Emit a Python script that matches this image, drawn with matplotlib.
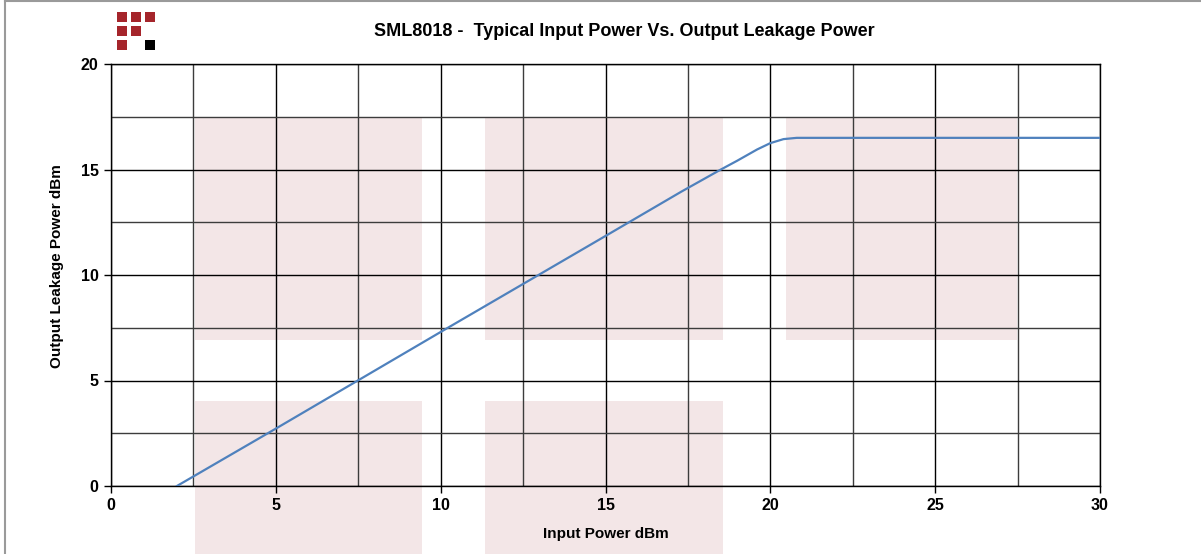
import matplotlib
matplotlib.use("Agg")
from matplotlib import pyplot as plt
from matplotlib.patches import Rectangle
from matplotlib.lines import Line2D
from matplotlib.ticker import MultipleLocator

plt.rcParams['font.family'] = ['Liberation Sans', 'DejaVu Sans']

# data
input_power = [2.0, 5.0, 10.0, 15.0, 17.3, 18.5, 19.0, 19.6, 20.0, 20.4, 20.8, 25.0, 30.0]
leakage_power = [0.0, 2.72, 7.3, 11.85, 13.95, 15.0, 15.42, 15.95, 16.25, 16.44, 16.5, 16.5, 16.5]

title = "SML8018 -  Typical Input Power Vs. Output Leakage Power"
x_label = "Input Power dBm"
y_label = "Output Leakage Power dBm"

W, H = 1201, 554
fig = plt.figure(figsize=(W / 100, H / 100), dpi=100)

def px_rect(x0, y0, x1, y1, **kw):
    # pixel box (top-left origin) -> figure fraction rectangle
    return Rectangle((x0 / W, 1 - y1 / H), (x1 - x0) / W, (y1 - y0) / H,
                     transform=fig.transFigure, **kw)

# faint background watermark blocks
pink = "#f3e6e7"
for box in [(195, 117, 422, 340), (485, 117, 723, 340), (786, 117, 1017, 340),
            (195, 401, 422, 554), (485, 401, 723, 554)]:
    fig.patches.append(px_rect(*box, facecolor=pink, edgecolor="none", zorder=-5))

# logo
red, blk = "#a5252b", "#000000"
cells = [(0, 0, red), (1, 0, red), (2, 0, red), (0, 1, red), (1, 1, red),
         (0, 2, red), (2, 2, blk)]
for c, r, col in cells:
    x0, y0 = 117 + 14 * c, 12 + 14 * r
    fig.patches.append(px_rect(x0, y0, x0 + 10, y0 + 10, facecolor=col,
                               edgecolor="none", zorder=5))

# thin grey frame on top and left
fig.lines.append(Line2D([5 / W, 1], [1 - 1 / H, 1 - 1 / H], transform=fig.transFigure,
                        color="#9a9a9a", lw=1.5))
fig.lines.append(Line2D([5 / W, 5 / W], [0, 1], transform=fig.transFigure,
                        color="#9a9a9a", lw=1.5))

ax = fig.add_axes([111 / W, (H - 486) / H, (1100 - 111) / W, (486 - 64) / H])
ax.patch.set_alpha(0)
ax.plot(input_power, leakage_power, color="#4f81bd", lw=1.6, zorder=3)

ax.set_xlim(0, 30)
ax.set_ylim(0, 20)
ax.xaxis.set_major_locator(MultipleLocator(5))
ax.yaxis.set_major_locator(MultipleLocator(5))
ax.xaxis.set_minor_locator(MultipleLocator(2.5))
ax.yaxis.set_minor_locator(MultipleLocator(2.5))
ax.grid(which="major", color="black", lw=1)
ax.grid(which="minor", color="#3c3c3c", lw=1)
ax.tick_params(which="major", direction="out", length=5, width=1, labelsize=11.5, pad=4)
ax.tick_params(which="minor", length=0)
for lab in ax.get_xticklabels() + ax.get_yticklabels():
    lab.set_fontweight("bold")
for sp in ax.spines.values():
    sp.set_color("black")
    sp.set_linewidth(1)

ax.set_xlabel(x_label, fontsize=11, fontweight="bold", labelpad=10)
ax.set_ylabel(y_label, fontsize=11, fontweight="bold", labelpad=6)
ax.yaxis.set_label_coords(-0.048, 0.52)

fig.text(624 / W, 1 - 32 / H, title, ha="center", va="center",
         fontsize=13, fontweight="bold")

fig.savefig("out.png", dpi=100)
